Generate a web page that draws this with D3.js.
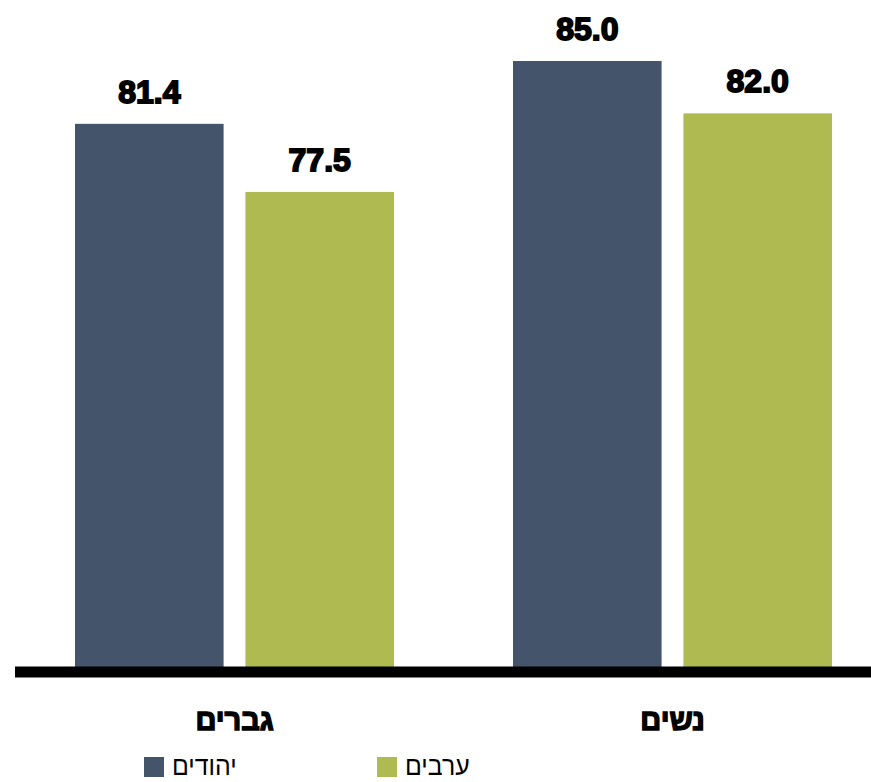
<!DOCTYPE html>
<html><head><meta charset="utf-8">
<script src="https://cdn.jsdelivr.net/npm/d3@7"></script>
<style>body{margin:0;background:#fff}svg{display:block}</style>
</head><body>
<svg id="c" width="871" height="782"></svg>
<script>
const categories = ["גברים", "נשים"];
const seriesNames = ["יהודים", "ערבים"];
const jews = [81.4, 85.0];
const arabs = [77.5, 82.0];
const colors = ["#44546a", "#afbb50"];

const svg = d3.select("#c");
const groupX = d3.scaleOrdinal().domain(categories).range([75, 513]);
const sub = d3.scaleBand().domain(seriesNames).range([0, 319]).paddingInner(0.128);
const y = d3.scaleLinear().domain([50, 85]).range([672, 61]);

const data = categories.map((c, i) => ({ cat: c, vals: [jews[i], arabs[i]] }));

const g = svg.selectAll("g.grp").data(data).join("g")
  .attr("transform", d => `translate(${groupX(d.cat)},0)`);

g.selectAll("rect").data(d => d.vals.map((v, j) => ({ v, s: seriesNames[j], j }))).join("rect")
  .attr("x", d => sub(d.s))
  .attr("width", sub.bandwidth())
  .attr("y", d => y(d.v))
  .attr("height", d => y(50) - y(d.v))
  .attr("fill", d => colors[d.j]);

g.selectAll("text.val").data(d => d.vals.map((v, j) => ({ v, s: seriesNames[j] }))).join("text")
  .attr("class", "val")
  .attr("x", d => sub(d.s) + sub.bandwidth() / 2)
  .attr("y", d => y(d.v) - 21)
  .attr("text-anchor", "middle")
  .attr("font-family", "Liberation Sans, Arial, sans-serif")
  .attr("font-weight", "bold")
  .attr("font-size", 32)
  .attr("stroke", "#000").attr("stroke-width", 1.8)
  .attr("fill", "#000")
  .text(d => d3.format(".1f")(d.v));

// category labels
g.append("text")
  .attr("x", 319 / 2)
  .attr("y", 730)
  .attr("text-anchor", "middle")
  .attr("direction", "rtl")
  .attr("font-family", "Liberation Sans, Arial, sans-serif")
  .attr("font-weight", "bold")
  .attr("font-size", 29)
  .attr("stroke", "#000").attr("stroke-width", 1.4)
  .attr("fill", "#000")
  .text(d => d.cat);

// baseline
svg.append("line")
  .attr("x1", 15).attr("x2", 871)
  .attr("y1", y(50)).attr("y2", y(50))
  .attr("stroke", "#000").attr("stroke-width", 11);

// legend
const legX = [144, 377];
const leg = svg.selectAll("g.leg").data(seriesNames).join("g")
  .attr("transform", (d, i) => `translate(${legX[i]},757)`);
leg.append("rect").attr("width", 20).attr("height", 20).attr("fill", (d, i) => colors[i]);
leg.append("text")
  .attr("x", 28).attr("y", 18)
  .attr("text-anchor", "start")
  .attr("font-family", "Liberation Sans Narrow, Liberation Sans, Arial, sans-serif")
  .attr("font-size", 27)
  .attr("fill", "#000")
  .attr("transform", "scale(0.92,1)")
  .attr("transform-origin", "28 0")
  .text(d => d);
</script>
</body></html>
